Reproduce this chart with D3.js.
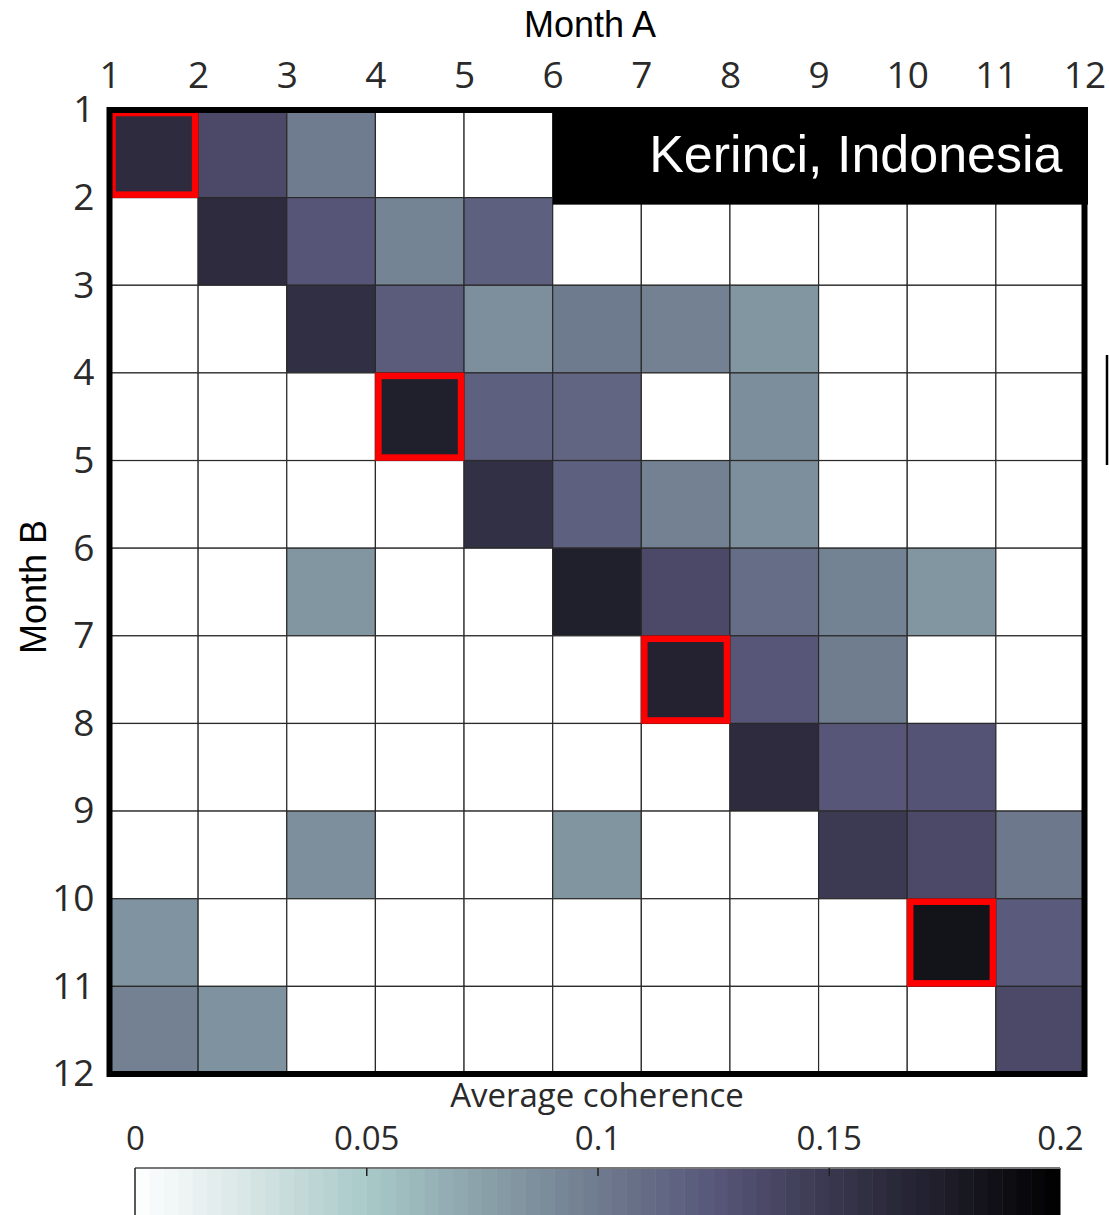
<!DOCTYPE html>
<html><head><meta charset="utf-8">
<script src="https://cdn.jsdelivr.net/npm/d3@7/dist/d3.min.js"></script>
<style>body{margin:0;background:#fff}</style>
</head><body>
<svg id="chart" width="1109" height="1215"></svg>
<script>
// ---------- data ----------
const monthTicks = [1,2,3,4,5,6,7,8,9,10,11,12];
const monthCells = [1,2,3,4,5,6,7,8,9,10,11];
// rows = Month B (1..11), columns = Month A (1..11); null = not shown (white)
const coherence = [
  [0.162, 0.136, 0.100, null,  null,  null,  null,  null,  null,  null,  null ],
  [null,  0.162, 0.127, 0.094, 0.119, null,  null,  null,  null,  null,  null ],
  [null,  null,  0.158, 0.122, 0.087, 0.101, 0.096, 0.082, null,  null,  null ],
  [null,  null,  null,  0.173, 0.119, 0.115, null,  0.088, null,  null,  null ],
  [null,  null,  null,  null,  0.157, 0.119, 0.096, 0.087, null,  null,  null ],
  [null,  null,  0.082, null,  null,  0.173, 0.136, 0.110, 0.095, 0.082, null ],
  [null,  null,  null,  null,  null,  null,  0.170, 0.126, 0.099, null,  null ],
  [null,  null,  null,  null,  null,  null,  null,  0.162, 0.126, 0.128, null ],
  [null,  null,  0.087, null,  null,  0.083, null,  null,  0.148, 0.136, 0.102],
  [0.084, null,  null,  null,  null,  null,  null,  null,  null,  0.184, 0.123],
  [0.096, 0.085, null,  null,  null,  null,  null,  null,  null,  null,  0.136]
];
const highlighted = [[1,1],[4,4],[7,7],[10,10]]; // [Month A, Month B]
const siteLabel = "Kerinci, Indonesia";
const xTitle = "Month A";
const yTitle = "Month B";
const colorbarTitle = "Average coherence";
const colorbarTicks = [0, 0.05, 0.1, 0.15, 0.2];
const colorbarTickLabels = ["0", "0.05", "0.1", "0.15", "0.2"];
const colorStopValues = [0, 0.025, 0.05, 0.075, 0.1, 0.125, 0.15, 0.175, 0.2];
const colorStops = ["#ffffff","#d6e5e4","#a9c9c9","#8aa1aa","#6f7b8e","#58577a","#3a384f","#1e1d29","#000000"];

// ---------- drawing ----------
const svg = d3.select("#chart");
const x = d3.scaleLinear().domain([1,12]).range([109.5,1084.5]);
const y = d3.scaleLinear().domain([1,12]).range([110,1074]);
const color = d3.scaleLinear().domain(colorStopValues).range(colorStops).interpolate(d3.interpolateRgb).clamp(true);

const cells = [];
coherence.forEach((row, i) => row.forEach((v, j) => cells.push({a: monthCells[j], b: monthCells[i], v})));

svg.append("g").selectAll("rect").data(cells).join("rect")
  .attr("x", d => x(d.a)).attr("y", d => y(d.b))
  .attr("width", d => x(d.a+1) - x(d.a)).attr("height", d => y(d.b+1) - y(d.b))
  .attr("fill", d => d.v == null ? "#ffffff" : color(d.v))
  .attr("stroke", "#2a2a2a").attr("stroke-width", 1.2);

// red highlight boxes
svg.append("g").selectAll("rect").data(highlighted).join("rect")
  .attr("x", d => x(d[0]) + 3).attr("y", d => y(d[1]) + 3)
  .attr("width", d => x(d[0]+1) - x(d[0]) - 6).attr("height", d => y(d[1]+1) - y(d[1]) - 6)
  .attr("fill", "none").attr("stroke", "#ff0000").attr("stroke-width", 6.5);

// frame
svg.append("rect")
  .attr("x", x(1)).attr("y", y(1)).attr("width", x(12)-x(1)).attr("height", y(12)-y(1))
  .attr("fill", "none").attr("stroke", "#000").attr("stroke-width", 6);

// site label box
svg.append("rect")
  .attr("x", x(6)).attr("y", y(1) - 3).attr("width", x(12) - x(6) + 3.5).attr("height", y(2) - y(1) + 10)
  .attr("fill", "#000");
svg.append("text")
  .attr("x", x(12) - 22).attr("y", 172).attr("text-anchor", "end")
  .attr("font-family", "Liberation Sans, Arial, sans-serif").attr("font-size", 52)
  .attr("fill", "#fff").text(siteLabel);

// axes
const tickFont = "Open Sans, sans-serif";
const xAxis = svg.append("g").attr("transform", `translate(0,${y(1)})`)
  .call(d3.axisTop(x).tickValues(monthTicks).tickSize(0).tickPadding(22).tickFormat(d3.format("d")));
xAxis.select(".domain").remove();
xAxis.selectAll("text").attr("font-family", tickFont).attr("font-size", 37).attr("fill", "#2a2a2a");

const yAxis = svg.append("g").attr("transform", `translate(${x(1)},0)`)
  .call(d3.axisLeft(y).tickValues(monthTicks).tickSize(0).tickPadding(15).tickFormat(d3.format("d")));
yAxis.select(".domain").remove();
yAxis.selectAll("text").attr("font-family", tickFont).attr("font-size", 37).attr("fill", "#2a2a2a");

// titles
svg.append("text").attr("x", 590).attr("y", 37).attr("text-anchor", "middle")
  .attr("font-family", "Liberation Sans, Arial, sans-serif").attr("font-size", 36).attr("fill", "#000").text(xTitle);
svg.append("text").attr("transform", "translate(46,587) rotate(-90)").attr("text-anchor", "middle")
  .attr("font-family", "Liberation Sans, Arial, sans-serif").attr("font-size", 36).attr("fill", "#000").text(yTitle);

// colorbar
const cb = d3.scaleLinear().domain([0, 0.2]).range([135, 1060]);
const nSteps = 64;
const steps = d3.range(nSteps).map(i => ({lo: 0.2*i/nSteps, hi: 0.2*(i+1)/nSteps}));
const cbTop = 1168;
svg.append("g").selectAll("rect").data(steps).join("rect")
  .attr("x", d => cb(d.lo)).attr("y", cbTop).attr("width", d => cb(d.hi) - cb(d.lo) + 0.5).attr("height", 60)
  .attr("fill", d => color((d.lo + d.hi)/2));
svg.append("line").attr("x1", cb(0)).attr("x2", cb(0.2)).attr("y1", cbTop).attr("y2", cbTop)
  .attr("stroke", "#777").attr("stroke-width", 2);
svg.append("line").attr("x1", cb(0)).attr("x2", cb(0)).attr("y1", cbTop).attr("y2", 1215)
  .attr("stroke", "#222").attr("stroke-width", 1.5);
const cbAxis = svg.append("g").attr("transform", `translate(0,${cbTop})`)
  .call(d3.axisBottom(cb).tickValues(colorbarTicks).tickSize(8).tickFormat((d,i) => colorbarTickLabels[i]));
cbAxis.select(".domain").remove();
cbAxis.selectAll(".tick line").attr("stroke", "#222").attr("stroke-width", 1.5)
  .filter(d => d === 0 || d === 0.2).remove();
cbAxis.selectAll("text").attr("y", -18).attr("dy", 0)
  .attr("font-family", tickFont).attr("font-size", 33).attr("fill", "#2a2a2a");
svg.append("text").attr("x", 597).attr("y", 1107).attr("text-anchor", "middle")
  .attr("font-family", tickFont).attr("font-size", 33).attr("fill", "#2a2a2a").text(colorbarTitle);

// stray mark at right edge (part of a neighbouring panel)
svg.append("line").attr("x1", 1107).attr("x2", 1107).attr("y1", 355).attr("y2", 465)
  .attr("stroke", "#000").attr("stroke-width", 2.5);
</script>
</body></html>
